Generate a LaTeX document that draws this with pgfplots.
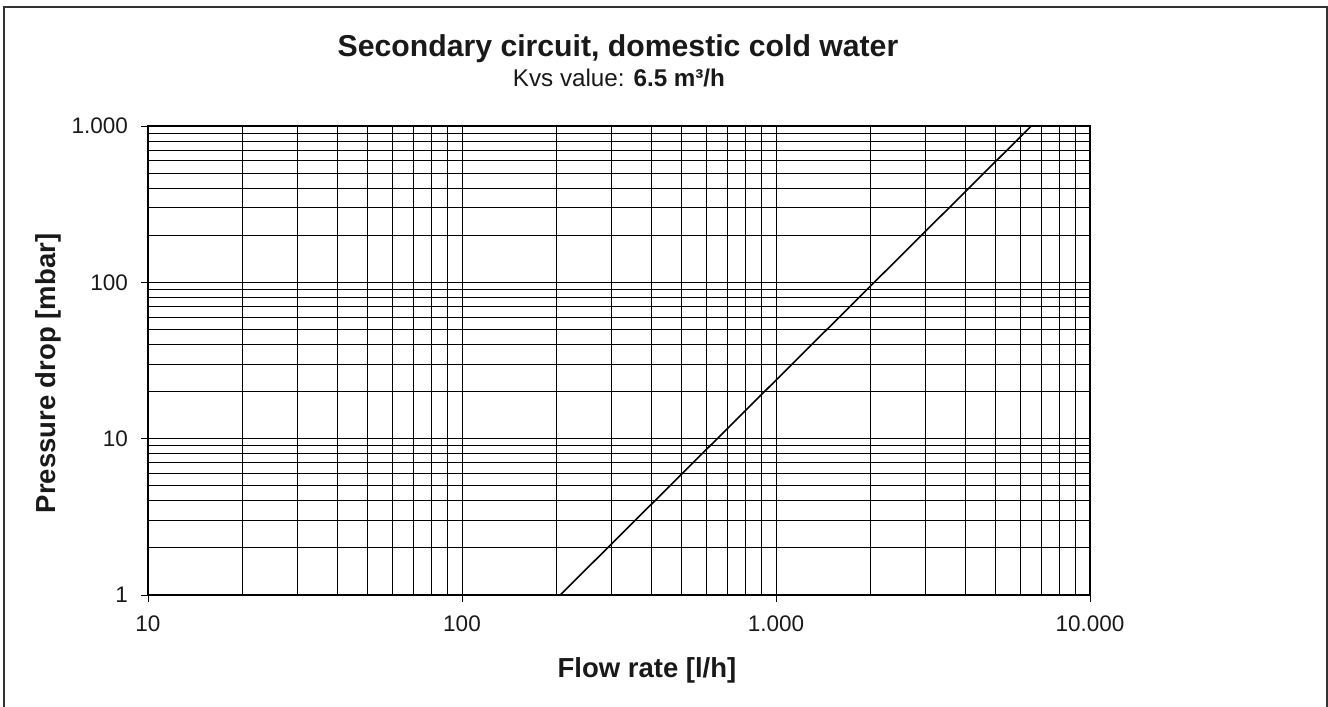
\documentclass[border=0pt]{standalone}
\usepackage{fontspec}
\setmainfont{Liberation Sans}
\usepackage{pgfplots}
\pgfplotsset{compat=1.18}
\begin{document}
\begin{tikzpicture}
\useasboundingbox (-148bp,-112bp) rectangle (1180bp,595bp);
\draw[line width=1.5bp, black!80] (-144bp,-120bp) -- (-144bp,588bp) -- (1179bp,588bp) -- (1179bp,-120bp);
\begin{axis}[
  at={(0,0)}, anchor=south west,
  scale only axis, width=942bp, height=469bp,
  xmode=log, ymode=log,
  xmin=10, xmax=10000, ymin=1, ymax=1000,
  xtick={10,100,1000,10000}, xticklabels={10,100,1.000,10.000},
  ytick={1,10,100,1000}, yticklabels={1,10,100,1.000},
  minor xtick={20,30,40,50,60,70,80,90,200,300,400,500,600,700,800,900,2000,3000,4000,5000,6000,7000,8000,9000},
  minor ytick={2,3,4,5,6,7,8,9,20,30,40,50,60,70,80,90,200,300,400,500,600,700,800,900},
  grid=both,
  major grid style={line width=0.9bp, black},
  minor grid style={line width=0.9bp, black},
  axis line style={line width=1.6bp, black},
  tick align=outside, tick pos=left,
  major tick length=7bp, minor tick length=0pt,
  tick style={line width=0.9bp, black},
  ticklabel style={font=\fontsize{22.5bp}{27bp}\selectfont, inner sep=0pt, text=black!90},
  xticklabel style={anchor=north, yshift=-14bp},
  yticklabel style={anchor=east, xshift=-13bp},
  xlabel={\bfseries Flow rate [l/h]},
  ylabel={\bfseries Pressure drop [mbar]},
  label style={font=\fontsize{27.5bp}{33bp}\selectfont, inner sep=0pt, text=black!90},
  xlabel style={at={(axis description cs:0.5297,0)}, anchor=base, yshift=-82bp},
  ylabel style={at={(axis description cs:0,0.4723)}, anchor=base, yshift=93bp},
]
\addplot[line width=1.6bp, black] coordinates {(205.5,1) (6500,1000)};
\end{axis}
\node[anchor=base, inner sep=0pt, text=black!90, font=\fontsize{30.2bp}{36bp}\selectfont\bfseries] at (470bp,538bp) {Secondary circuit, domestic cold water};
\node[anchor=base, inner sep=0pt, text=black!90, font=\fontsize{24.2bp}{29bp}\selectfont] at (471bp,508bp) {Kvs value: \textbf{6.5 m³/h}};
\end{tikzpicture}
\end{document}
